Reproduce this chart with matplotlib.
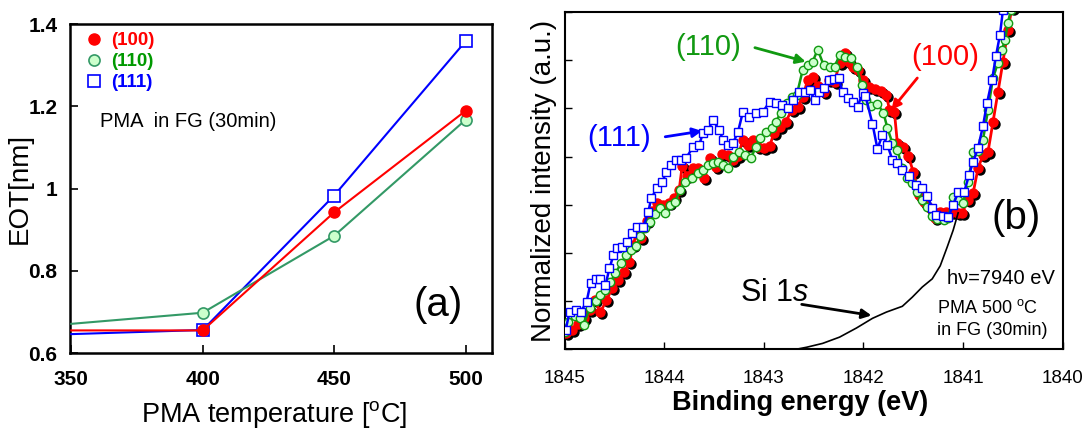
import matplotlib
matplotlib.use("Agg")
import matplotlib.pyplot as plt
from matplotlib.lines import Line2D
from matplotlib.transforms import offset_copy
from matplotlib.ticker import FuncFormatter

plt.rcParams['font.family'] = ['Liberation Sans', 'DejaVu Sans']
plt.rcParams['mathtext.fontset'] = 'custom'
plt.rcParams['mathtext.rm'] = 'Liberation Sans'
plt.rcParams['mathtext.it'] = 'Liberation Sans:italic'

# ---- panel (a) data: EOT vs PMA temperature
temp = [350, 400, 450, 500]
eot_100 = [0.655, 0.655, 0.942, 1.189]
eot_110 = [0.671, 0.698, 0.885, 1.167]
eot_111 = [0.646, 0.656, 0.983, 1.358]
temp_ticks = [350, 400, 450, 500]
eot_ticks = [0.6, 0.8, 1.0, 1.2, 1.4]

# ---- panel (b) data: Si 1s spectra
e_100 = [1844.99, 1844.93, 1844.87, 1844.81, 1844.75, 1844.70, 1844.64, 1844.58, 1844.52, 1844.46,
         1844.40, 1844.35, 1844.31, 1844.28, 1844.23, 1844.17, 1844.12, 1844.07, 1844.01, 1843.95,
         1843.90, 1843.85, 1843.82, 1843.77, 1843.71, 1843.66, 1843.60, 1843.54, 1843.48, 1843.42,
         1843.36, 1843.31, 1843.26, 1843.21, 1843.16, 1843.11, 1843.06, 1843.00, 1842.94, 1842.90,
         1842.84, 1842.78, 1842.72, 1842.66, 1842.61, 1842.56, 1842.51, 1842.46, 1842.40, 1842.35,
         1842.29, 1842.24, 1842.19, 1842.15, 1842.11, 1842.06, 1842.00, 1841.94, 1841.88, 1841.82,
         1841.77, 1841.74, 1841.69, 1841.66, 1841.60, 1841.55, 1841.50, 1841.44, 1841.39, 1841.33,
         1841.28, 1841.23, 1841.17, 1841.11, 1841.05, 1841.01, 1840.95, 1840.90, 1840.85, 1840.80,
         1840.75, 1840.70, 1840.65, 1840.60, 1840.55, 1840.51]
i_100 = [0.33, 0.40, 0.52, 0.64, 0.81, 1.02, 0.77, 1.02, 1.27, 1.43,
         1.60, 1.81, 2.16, 2.43, 2.31, 2.66, 2.87, 3.04, 2.99, 3.04,
         3.14, 3.31, 3.80, 3.60, 3.76, 3.76, 3.56, 3.97, 3.78, 4.05,
         4.03, 3.93, 4.01, 4.35, 4.24, 4.35, 4.20, 4.18, 4.22, 4.49,
         4.62, 4.72, 4.97, 5.03, 5.24, 5.59, 5.65, 5.47, 5.34, 5.59,
         5.55, 5.95, 6.15, 5.97, 5.86, 5.80, 5.59, 5.45, 5.41, 5.36,
         5.28, 4.97, 4.93, 4.28, 4.20, 4.01, 3.68, 3.20, 3.06, 2.93,
         2.72, 2.85, 2.85, 2.85, 2.83, 2.83, 3.10, 3.24, 3.76, 4.03,
         4.10, 4.72, 5.34, 5.97, 6.63, 7.09]

e_110 = [1845.00, 1844.97, 1844.90, 1844.85, 1844.81, 1844.75, 1844.69, 1844.64, 1844.59, 1844.54,
         1844.49, 1844.43, 1844.38, 1844.33, 1844.28, 1844.24, 1844.19, 1844.14, 1844.09, 1844.04,
         1843.99, 1843.94, 1843.89, 1843.84, 1843.79, 1843.72, 1843.66, 1843.61, 1843.56, 1843.51,
         1843.46, 1843.41, 1843.36, 1843.31, 1843.25, 1843.19, 1843.13, 1843.08, 1843.04, 1842.98,
         1842.92, 1842.88, 1842.83, 1842.77, 1842.72, 1842.67, 1842.61, 1842.56, 1842.51, 1842.46,
         1842.40, 1842.34, 1842.29, 1842.24, 1842.19, 1842.13, 1842.07, 1842.02, 1841.97, 1841.92,
         1841.86, 1841.80, 1841.76, 1841.71, 1841.66, 1841.61, 1841.56, 1841.51, 1841.46, 1841.41,
         1841.36, 1841.31, 1841.26, 1841.19, 1841.15, 1841.10, 1841.05, 1841.00, 1840.95, 1840.90,
         1840.85, 1840.80, 1840.75, 1840.70, 1840.65, 1840.61, 1840.58, 1840.55, 1840.52]
i_110 = [0.35, 0.56, 0.69, 0.64, 0.50, 0.85, 1.00, 1.12, 1.23, 1.39,
         1.58, 1.79, 1.95, 2.06, 2.14, 2.35, 2.52, 2.64, 2.81, 2.93,
         2.83, 2.99, 3.06, 3.31, 3.47, 3.56, 3.66, 3.72, 3.83, 3.87,
         3.89, 3.83, 3.76, 3.99, 4.10, 4.03, 3.97, 4.20, 4.39, 4.51,
         4.59, 4.72, 4.91, 5.11, 5.24, 5.28, 5.80, 5.90, 5.97, 6.22,
         5.90, 5.86, 5.86, 6.11, 6.07, 6.05, 5.86, 5.49, 5.18, 5.05,
         5.09, 4.91, 4.59, 4.28, 4.14, 3.76, 3.56, 3.45, 3.26, 3.10,
         2.95, 2.77, 2.70, 2.68, 2.72, 3.16, 3.10, 3.04, 3.47, 4.10,
         4.12, 4.35, 4.97, 5.63, 5.95, 6.22, 6.42, 6.78, 7.05]

e_111 = [1844.99, 1844.95, 1844.89, 1844.84, 1844.78, 1844.74, 1844.69, 1844.64, 1844.59, 1844.55,
         1844.51, 1844.47, 1844.42, 1844.37, 1844.32, 1844.27, 1844.21, 1844.16, 1844.13, 1844.07,
         1844.02, 1843.98, 1843.93, 1843.88, 1843.83, 1843.78, 1843.71, 1843.65, 1843.61, 1843.56,
         1843.51, 1843.45, 1843.41, 1843.36, 1843.31, 1843.26, 1843.21, 1843.15, 1843.08, 1843.01,
         1842.94, 1842.88, 1842.82, 1842.76, 1842.71, 1842.65, 1842.59, 1842.54, 1842.49, 1842.45,
         1842.40, 1842.35, 1842.30, 1842.25, 1842.21, 1842.16, 1842.11, 1842.06, 1842.01, 1841.98,
         1841.91, 1841.86, 1841.81, 1841.76, 1841.71, 1841.66, 1841.61, 1841.54, 1841.47, 1841.41,
         1841.36, 1841.31, 1841.27, 1841.20, 1841.15, 1841.10, 1841.05, 1840.99, 1840.94, 1840.90,
         1840.85, 1840.80, 1840.76, 1840.71, 1840.67, 1840.63, 1840.60]
i_111 = [0.40, 0.77, 0.81, 0.77, 0.98, 1.37, 1.46, 1.46, 1.33, 1.68,
         1.95, 2.10, 2.12, 2.22, 2.41, 2.54, 2.54, 2.85, 3.14, 3.35,
         3.47, 3.68, 3.83, 3.93, 3.93, 3.97, 4.20, 4.24, 4.49, 4.55,
         4.76, 4.55, 4.35, 4.24, 4.28, 4.51, 4.93, 4.82, 4.91, 4.93,
         5.14, 5.11, 5.07, 5.01, 5.18, 5.34, 5.34, 5.38, 5.18, 5.34,
         5.43, 5.59, 5.61, 5.63, 5.34, 5.22, 5.14, 5.03, 5.32, 5.26,
         4.68, 4.16, 4.45, 4.24, 3.93, 3.87, 3.72, 3.60, 3.41, 3.35,
         3.18, 2.93, 2.79, 2.77, 2.74, 2.99, 3.26, 3.26, 3.62, 3.89,
         4.18, 4.64, 5.11, 5.59, 6.09, 6.53, 7.05]

e_si = [1843.00, 1842.67, 1842.57, 1842.41, 1842.24, 1842.07, 1841.91, 1841.77, 1841.61,
        1841.51, 1841.41, 1841.31, 1841.23, 1841.16, 1841.10, 1841.05]
i_si = [0.00, 0.00, 0.04, 0.12, 0.25, 0.44, 0.64, 0.77, 0.89,
        1.08, 1.29, 1.46, 1.73, 2.12, 2.47, 2.83]

be_ticks = [1845, 1844, 1843, 1842, 1841, 1840]

RED = '#ff0000'
BLUE = '#0000ff'
GREEN_A = '#339966'
GREEN_B = '#119911'
LGREEN = '#ccffcc'

fig = plt.figure(figsize=(10.9, 4.3), dpi=100)

# ================= (a)
ax1 = fig.add_axes([0.0642, 0.179, 0.387, 0.765])
ax1.plot(temp, eot_111, '-s', color=BLUE, lw=1.5, ms=8, mfc='white', mec=BLUE,
         mew=1.2, markevery=[1, 2, 3], zorder=3)
ax1.plot(temp, eot_110, '-o', color=GREEN_A, lw=1.5, ms=8, mfc=LGREEN, mec=GREEN_A,
         mew=1.2, markevery=[1, 2, 3], zorder=3)
ax1.plot(temp, eot_100, '-o', color=RED, lw=1.5, ms=8, mfc=RED, mec=RED,
         markevery=[1, 2, 3], zorder=4)
ax1.set_xlim(349.5, 510)
ax1.set_ylim(0.6, 1.4)
ax1.set_xticks(temp_ticks)
ax1.set_yticks(eot_ticks)
ax1.yaxis.set_major_formatter(FuncFormatter(lambda v, p: '%g' % v))
ax1.tick_params(direction='in', length=6, width=1.2, labelsize=15, top=False, right=False)
ax1.tick_params(axis='x', pad=12)
ax1.tick_params(axis='y', pad=9)
for lab in ax1.get_xticklabels() + ax1.get_yticklabels():
    lab.set_fontweight('bold')
for sp in ax1.spines.values():
    sp.set_linewidth(1.8)
ax1.set_xlabel('PMA temperature [$^{\\mathrm{o}}$C]', fontsize=19.5)
ax1.set_ylabel('EOT[nm]', fontsize=20)
ax1.xaxis.set_label_coords(0.483, -0.14)
ax1.yaxis.set_label_coords(-0.088, 0.5)

handles = [Line2D([], [], ls='none', marker='o', ms=8, mfc=RED, mec=RED),
           Line2D([], [], ls='none', marker='o', ms=8, mfc=LGREEN, mec=GREEN_A, mew=1.2),
           Line2D([], [], ls='none', marker='s', ms=8, mfc='white', mec=BLUE, mew=1.2)]
leg = ax1.legend(handles, ['(100)', '(110)', '(111)'], loc='upper left',
                 bbox_to_anchor=(0.035, 0.975), frameon=False, borderpad=0,
                 borderaxespad=0, handlelength=1.0, handletextpad=0.4,
                 labelspacing=0.2, prop={'size': 13.5, 'weight': 'bold'},
                 labelcolor=[RED, '#009900', BLUE])
ax1.text(0.071, 0.705, 'PMA  in FG (30min)', transform=ax1.transAxes,
         fontsize=14.5, va='center', ha='left')
ax1.text(0.872, 0.146, '(a)', transform=ax1.transAxes, fontsize=29,
         va='center', ha='center')

# ================= (b)
ax2 = fig.add_axes([0.518, 0.188, 0.457, 0.784])
shadow = offset_copy(ax2.transData, fig=fig, x=2, y=-2, units='dots')
ax2.plot(e_100, i_100, 'o', ls='none', color='black', ms=6.5, transform=shadow, zorder=2)
ax2.plot(e_100, i_100, '-o', color=RED, lw=2, ms=6.5, mfc=RED, mec=RED, zorder=3)
ax2.plot(e_110, i_110, '-o', color=GREEN_B, lw=1.8, ms=6, mfc=LGREEN, mec=GREEN_B,
         mew=1, zorder=4)
ax2.plot(e_111, i_111, '-s', color=BLUE, lw=1.8, ms=6, mfc='white', mec=BLUE,
         mew=1, zorder=5)
ax2.plot(e_si, i_si, '-', color='black', lw=1.2, zorder=6)

ax2.set_xlim(1845, 1840)
ax2.set_ylim(0, 7)
ax2.set_xticks(be_ticks)
ax2.set_xticklabels([str(t) for t in be_ticks])
ax2.set_yticks(range(0, 8))
ax2.set_yticklabels([])
ax2.tick_params(direction='in', length=5, width=1, labelsize=13.5, top=False, right=False)
ax2.tick_params(axis='x', pad=15)
for sp in ax2.spines.values():
    sp.set_linewidth(1.5)
ax2.set_xlabel('Binding energy (eV)', fontsize=19.5, fontweight='bold')
ax2.set_ylabel('Normalized intensity (a.u.)', fontsize=20, labelpad=2)
ax2.xaxis.set_label_coords(0.472, -0.12)

arrow = dict(arrowstyle='-|>', lw=2, mutation_scale=14, shrinkA=0, shrinkB=0)
ax2.annotate('', xy=(1842.58, 5.97), xytext=(1843.09, 6.26),
             arrowprops=dict(arrow, color=GREEN_B))
ax2.text(1843.56, 6.28, '(110)', color=GREEN_B, fontsize=21, ha='center', va='center')
ax2.annotate('', xy=(1843.62, 4.53), xytext=(1843.99, 4.41),
             arrowprops=dict(arrow, color=BLUE))
ax2.text(1844.45, 4.39, '(111)', color=BLUE, fontsize=21, ha='center', va='center')
ax2.annotate('', xy=(1841.72, 4.97), xytext=(1841.46, 5.63),
             arrowprops=dict(arrow, color=RED))
ax2.text(1841.18, 6.07, '(100)', color=RED, fontsize=21, ha='center', va='center')
ax2.annotate('', xy=(1841.92, 0.70), xytext=(1842.62, 0.93),
             arrowprops=dict(arrow, color='black'))
ax2.text(1843.24, 1.16, 'Si $\\mathit{1s}$', fontsize=22, ha='left', va='center')

ax2.text(0.906, 0.389, '(b)', transform=ax2.transAxes, fontsize=29,
         ha='center', va='center')
ax2.text(0.984, 0.211, 'h\u03bd=7940 eV', transform=ax2.transAxes, fontsize=14.5,
         ha='right', va='center')
ax2.text(0.747, 0.122, 'PMA 500 $^{\\mathrm{o}}$C', transform=ax2.transAxes,
         fontsize=13, ha='left', va='center')
ax2.text(0.747, 0.056, 'in FG (30min)', transform=ax2.transAxes,
         fontsize=13, ha='left', va='center')

fig.savefig('out.png', dpi=100)
